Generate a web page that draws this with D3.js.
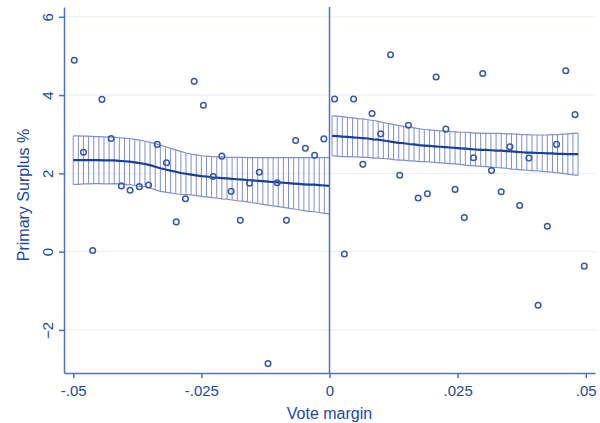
<!DOCTYPE html>
<html>
<head>
<meta charset="utf-8">
<script src="https://cdn.jsdelivr.net/npm/d3@7"></script>
<style>
  body { margin: 0; background: #fff; }
  text { font-family: "Liberation Sans", Arial, sans-serif; fill: #24489e; }
</style>
</head>
<body>
<div class="chart"></div>
<script>
// scatter points, vote margin < 0
var leftX = [-0.0498, -0.0444, -0.0480, -0.0426, -0.0336, -0.0318, -0.0406, -0.0389, -0.0371, -0.0353,
  -0.0281, -0.0264, -0.0246, -0.0210, -0.0227, -0.0192, -0.0156, -0.0137, -0.0102, -0.0066,
  -0.0047, -0.0029, -0.0011, -0.0462, -0.0299, -0.0174, -0.0084, -0.0120];
var leftY = [4.89, 3.89, 2.54, 2.89, 2.74, 2.27, 1.68, 1.57, 1.66, 1.70,
  1.35, 4.35, 3.74, 2.44, 1.92, 1.54, 1.75, 2.03, 1.76, 2.84,
  2.64, 2.46, 2.88, 0.03, 0.76, 0.80, 0.80, -2.86];

// scatter points, vote margin > 0
var rightX = [0.0010, 0.0047, 0.0083, 0.0100, 0.0119, 0.0065, 0.0137, 0.0154, 0.0208, 0.0227,
  0.0173, 0.0191, 0.0245, 0.0029, 0.0299, 0.0461, 0.0479, 0.0352, 0.0443, 0.0281,
  0.0389, 0.0316, 0.0335, 0.0263, 0.0371, 0.0425, 0.0497, 0.0407];
var rightY = [3.90, 3.90, 3.53, 3.01, 5.03, 2.23, 1.95, 3.23, 4.46, 3.13,
  1.37, 1.48, 1.59, -0.06, 4.55, 4.62, 3.50, 2.68, 2.74, 2.40,
  2.39, 2.07, 1.53, 0.87, 1.18, 0.65, -0.37, -1.37];

// local fit with confidence band, left side
var gridLeft = [-0.050, -0.049, -0.048, -0.047, -0.046, -0.045, -0.044, -0.043, -0.042, -0.041,
  -0.040, -0.039, -0.038, -0.037, -0.036, -0.035, -0.034, -0.033, -0.032, -0.031,
  -0.030, -0.029, -0.028, -0.027, -0.026, -0.025, -0.024, -0.023, -0.022, -0.021,
  -0.020, -0.019, -0.018, -0.017, -0.016, -0.015, -0.014, -0.013, -0.012, -0.011,
  -0.010, -0.009, -0.008, -0.007, -0.006, -0.005, -0.004, -0.003, -0.002, -0.001, 0.000];
var fitLeft = [2.34, 2.34, 2.34, 2.34, 2.34, 2.34, 2.33, 2.33, 2.33, 2.32,
  2.31, 2.30, 2.28, 2.26, 2.24, 2.21, 2.17, 2.13, 2.10, 2.07,
  2.04, 2.01, 1.99, 1.97, 1.95, 1.93, 1.92, 1.90, 1.89, 1.88,
  1.87, 1.86, 1.85, 1.84, 1.83, 1.82, 1.81, 1.80, 1.79, 1.78,
  1.77, 1.76, 1.75, 1.74, 1.73, 1.72, 1.71, 1.71, 1.70, 1.69, 1.68];
var hiLeft = [2.96, 2.96, 2.95, 2.95, 2.94, 2.94, 2.93, 2.93, 2.92, 2.91,
  2.90, 2.89, 2.87, 2.85, 2.82, 2.79, 2.76, 2.72, 2.68, 2.64,
  2.60, 2.56, 2.52, 2.49, 2.47, 2.45, 2.44, 2.43, 2.42, 2.42,
  2.41, 2.41, 2.41, 2.41, 2.40, 2.40, 2.40, 2.40, 2.40, 2.40,
  2.40, 2.40, 2.40, 2.40, 2.40, 2.40, 2.40, 2.40, 2.40, 2.40, 2.40];
var loLeft = [1.72, 1.72, 1.73, 1.73, 1.74, 1.74, 1.73, 1.73, 1.74, 1.73,
  1.72, 1.71, 1.69, 1.67, 1.66, 1.63, 1.58, 1.54, 1.52, 1.50,
  1.48, 1.46, 1.46, 1.45, 1.43, 1.41, 1.40, 1.38, 1.37, 1.35,
  1.34, 1.32, 1.30, 1.29, 1.27, 1.25, 1.23, 1.21, 1.19, 1.17,
  1.15, 1.13, 1.11, 1.09, 1.07, 1.05, 1.03, 1.02, 1.00, 0.98, 0.96];

// local fit with confidence band, right side
var gridRight = [0.0005, 0.0015, 0.0025, 0.0035, 0.0045, 0.0055, 0.0065, 0.0075, 0.0085, 0.0095,
  0.0105, 0.0115, 0.0125, 0.0135, 0.0145, 0.0155, 0.0165, 0.0175, 0.0185, 0.0195,
  0.0205, 0.0215, 0.0225, 0.0235, 0.0245, 0.0255, 0.0265, 0.0275, 0.0285, 0.0295,
  0.0305, 0.0315, 0.0325, 0.0335, 0.0345, 0.0355, 0.0365, 0.0375, 0.0385, 0.0395,
  0.0405, 0.0415, 0.0425, 0.0435, 0.0445, 0.0455, 0.0465, 0.0475, 0.0485];
var fitRight = [2.96, 2.95, 2.94, 2.93, 2.92, 2.91, 2.90, 2.89, 2.87, 2.86,
  2.84, 2.82, 2.80, 2.78, 2.77, 2.75, 2.74, 2.72, 2.71, 2.70,
  2.69, 2.68, 2.67, 2.66, 2.65, 2.64, 2.63, 2.62, 2.61, 2.60,
  2.60, 2.59, 2.58, 2.58, 2.57, 2.56, 2.55, 2.54, 2.53, 2.53,
  2.52, 2.52, 2.51, 2.51, 2.50, 2.50, 2.49, 2.49, 2.49];
var hiRight = [3.47, 3.46, 3.45, 3.43, 3.42, 3.40, 3.39, 3.37, 3.35, 3.33,
  3.30, 3.27, 3.25, 3.22, 3.20, 3.18, 3.16, 3.14, 3.12, 3.11,
  3.10, 3.09, 3.08, 3.07, 3.06, 3.05, 3.05, 3.04, 3.03, 3.03,
  3.02, 3.02, 3.02, 3.02, 3.01, 3.01, 3.00, 2.99, 2.99, 2.98,
  2.98, 2.98, 2.98, 2.99, 2.99, 3.00, 3.01, 3.02, 3.03];
var loRight = [2.45, 2.44, 2.43, 2.43, 2.42, 2.42, 2.41, 2.41, 2.39, 2.39,
  2.38, 2.37, 2.35, 2.34, 2.34, 2.32, 2.32, 2.30, 2.30, 2.29,
  2.28, 2.27, 2.26, 2.25, 2.24, 2.23, 2.21, 2.20, 2.19, 2.18,
  2.17, 2.16, 2.15, 2.14, 2.13, 2.11, 2.10, 2.09, 2.08, 2.07,
  2.06, 2.05, 2.04, 2.03, 2.01, 2.00, 1.98, 1.96, 1.95];

var xTicks = [-0.05, -0.025, 0, 0.025, 0.05];
var xTickLabels = ["-.05", "-.025", "0", ".025", ".05"];
var yTicks = [-2, 0, 2, 4, 6];

var svgWidth = 600;
var svgHeight = 423;
var margin = { top: 7, right: 5, bottom: 50, left: 64 };
var width = svgWidth - margin.left - margin.right;
var height = svgHeight - margin.top - margin.bottom;

var svg = d3.select(".chart")
  .append("svg")
  .attr("width", svgWidth)
  .attr("height", svgHeight);

var chartGroup = svg.append("g")
  .attr("transform", `translate(${margin.left}, ${margin.top})`);

var xScale = d3.scaleLinear().domain([-0.0518, 0.0518]).range([0, width]);
var yScale = d3.scaleLinear().domain([-3.1, 6.25]).range([height, 0]);

var axisColor = "#5670b6";
var markColor = "#3a58a8";
var bandColor = "#8090cc";
var fitColor = "#1c3f8f";

// grid lines
chartGroup.selectAll(".grid")
  .data(yTicks)
  .enter()
  .append("line")
  .attr("x1", 0)
  .attr("x2", width)
  .attr("y1", d => yScale(d))
  .attr("y2", d => yScale(d))
  .attr("stroke", "#e9edf6")
  .attr("stroke-width", 1);

// confidence bands: vertical hatch lines plus boundary lines
function drawBand(grid, lo, hi, fit) {
  var rows = grid.map((x, i) => ({ x: x, lo: lo[i], hi: hi[i], fit: fit[i] }));
  chartGroup.append("g")
    .selectAll("line")
    .data(rows)
    .enter()
    .append("line")
    .attr("x1", d => xScale(d.x))
    .attr("x2", d => xScale(d.x))
    .attr("y1", d => yScale(d.lo))
    .attr("y2", d => yScale(d.hi))
    .attr("stroke", bandColor)
    .attr("stroke-width", 1);
  ["lo", "hi"].forEach(k => {
    chartGroup.append("path")
      .datum(rows)
      .attr("fill", "none")
      .attr("stroke", bandColor)
      .attr("stroke-width", 1.2)
      .attr("d", d3.line().x(d => xScale(d.x)).y(d => yScale(d[k])));
  });
  chartGroup.append("path")
    .datum(rows)
    .attr("fill", "none")
    .attr("stroke", fitColor)
    .attr("stroke-width", 2.2)
    .attr("d", d3.line().x(d => xScale(d.x)).y(d => yScale(d.fit)));
}
drawBand(gridLeft, loLeft, hiLeft, fitLeft);
drawBand(gridRight, loRight, hiRight, fitRight);

// scatter
function drawPoints(xs, ys) {
  chartGroup.append("g")
    .selectAll("circle")
    .data(xs.map((x, i) => [x, ys[i]]))
    .enter()
    .append("circle")
    .attr("cx", d => xScale(d[0]))
    .attr("cy", d => yScale(d[1]))
    .attr("r", 2.8)
    .attr("fill", "none")
    .attr("stroke", markColor)
    .attr("stroke-width", 1.5);
}
drawPoints(leftX, leftY);
drawPoints(rightX, rightY);

// cutoff line
chartGroup.append("line")
  .attr("x1", xScale(0))
  .attr("x2", xScale(0))
  .attr("y1", 0)
  .attr("y2", height)
  .attr("stroke", axisColor)
  .attr("stroke-width", 1.5);

// axes
var bottomAxis = d3.axisBottom(xScale)
  .tickValues(xTicks)
  .tickFormat((d, i) => xTickLabels[i])
  .tickSize(5)
  .tickSizeOuter(0)
  .tickPadding(7);
var leftAxis = d3.axisLeft(yScale)
  .tickValues(yTicks)
  .tickFormat(d3.format("d"))
  .tickSize(5)
  .tickSizeOuter(0)
  .tickPadding(4);

var xAxisG = chartGroup.append("g")
  .attr("transform", `translate(0, ${height})`)
  .call(bottomAxis);
var yAxisG = chartGroup.append("g")
  .call(leftAxis);

[xAxisG, yAxisG].forEach(g => {
  g.select(".domain").attr("stroke", axisColor).attr("stroke-width", 1.5);
  g.selectAll(".tick line").attr("stroke", axisColor).attr("stroke-width", 1.5);
  g.selectAll(".tick text")
    .style("font-family", '"Liberation Sans", Arial, sans-serif')
    .style("font-size", "15px")
    .attr("fill", "#24489e");
});

// vertical y tick labels
yAxisG.selectAll(".tick text")
  .attr("x", null)
  .attr("dy", null)
  .attr("text-anchor", "middle")
  .attr("transform", "translate(-11, 0) rotate(-90)");

// axis labels
chartGroup.append("text")
  .attr("transform", "rotate(-90)")
  .attr("x", 0 - 188)
  .attr("y", -35)
  .attr("text-anchor", "middle")
  .style("font-size", "16px")
  .text("Primary Surplus %");

chartGroup.append("text")
  .attr("x", xScale(0))
  .attr("y", height + 46)
  .attr("text-anchor", "middle")
  .style("font-size", "16px")
  .text("Vote margin");
</script>
</body>
</html>
